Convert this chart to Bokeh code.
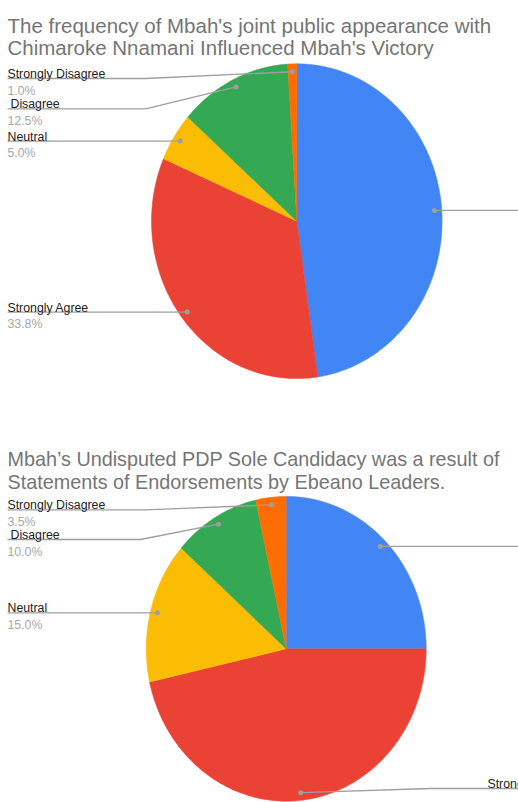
import numpy as np
from bokeh.plotting import figure
from bokeh.models import ColumnDataSource, Range1d
from bokeh.core.properties import value
from bokeh.embed import file_html
from bokeh.resources import INLINE

# ---------------- data ----------------
categories = ["Agree", "Strongly Agree", "Neutral", "Disagree", "Strongly Disagree"]
slice_colors = ["#4285F4", "#EA4335", "#FBBC04", "#34A853", "#FF6D01"]
pie1_values = [47.7, 33.8, 5.0, 12.5, 1.0]
pie2_values = [25.0, 46.5, 15.0, 10.0, 3.5]
title1_lines = ["The frequency of Mbah's joint public appearance with",
                "Chimaroke Nnamani Influenced Mbah's Victory"]
title2_lines = ["Mbah\u2019s Undisputed PDP Sole Candidacy was a result of",
                "Statements of Endorsements by Ebeano Leaders."]

# ---------------- layout (pixels, y downward) ----------------
W, H = 518, 802
FONT = "Liberation Sans"
LINE_COLOR = "#9e9e9e"

pies = [
    dict(values=pie1_values, title=title1_lines, title_y=[25, 47], title_size="20.5px",
         cx=296.3, cy=220.7, rx=145.3, ry=157.4,
         # per category: (side, line_y or None, bend_x or None, text_x or None)
         labels=[("right", None, None, None),
                 ("left", None, None, 7),
                 ("left", None, None, 7),
                 ("left", 108.3, 145, 7),
                 ("left", 78.0, 145, 7)]),
    dict(values=pie2_values, title=title2_lines, title_y=[458, 481], title_size="19.8px",
         cx=285.7, cy=648.3, rx=140.0, ry=152.4,
         labels=[("right", None, None, None),
                 ("right", 788.0, 430, 487),
                 ("left", None, None, 7),
                 ("left", 539.0, 140, 7),
                 ("left", 509.3, 145, 7)]),
]

p = figure(width=W, height=H, x_range=Range1d(0, W), y_range=Range1d(H, 0),
           output_backend="svg", toolbar_location=None, min_border=0,
           x_axis_location=None, y_axis_location=None)
p.grid.visible = False
p.outline_line_color = None
p.background_fill_color = "white"
p.border_fill_color = "white"

for pie in pies:
    vals = np.array(pie["values"], dtype=float)
    frac = vals / vals.sum()
    ends = np.cumsum(frac) * 2 * np.pi
    starts = ends - frac * 2 * np.pi
    cx, cy, rx, ry = pie["cx"], pie["cy"], pie["rx"], pie["ry"]

    xs, ys = [], []
    for a0, a1 in zip(starts, ends):
        n = max(4, int(np.degrees(a1 - a0)))
        t = np.linspace(a0, a1, n)
        xs.append([cx] + list(cx + rx * np.sin(t)) + [cx])
        ys.append([cy] + list(cy - ry * np.cos(t)) + [cy])
    p.patches(xs="xs", ys="ys", fill_color="color", line_color="color", line_width=0.5,
              source=ColumnDataSource(dict(xs=xs, ys=ys, color=slice_colors)))

    # leader lines and dots
    mids = (starts + ends) / 2
    dx = cx + 0.95 * rx * np.sin(mids)
    dy = cy - 0.95 * ry * np.cos(mids)
    lxs, lys = [], []
    name_x, name_y, name_t, pct_x, pct_y, pct_t = [], [], [], [], [], []
    for i, (side, ly, bx, tx) in enumerate(pie["labels"]):
        y_line = dy[i] if ly is None else ly
        if side == "left":
            if bx is None:
                lxs.append([7, dx[i]]); lys.append([y_line, dy[i]])
            else:
                lxs.append([7, bx, dx[i]]); lys.append([y_line, y_line, dy[i]])
        else:
            if bx is None:
                lxs.append([dx[i], W + 5]); lys.append([dy[i], dy[i]])
            else:
                lxs.append([dx[i], bx, W + 5]); lys.append([dy[i], y_line, y_line])
        if tx is not None:
            name_x.append(tx + (3 if categories[i] == "Disagree" else 0))
            name_y.append(y_line - 4.4)
            name_t.append(categories[i])
            if side == "left":
                pct_x.append(tx); pct_y.append(y_line + 12.0)
                pct_t.append(f"{pie['values'][i]:.1f}%")
    p.multi_line(xs=lxs, ys=lys, line_color=LINE_COLOR, line_width=1.3)
    p.scatter(x=list(dx), y=list(dy), size=5, fill_color=LINE_COLOR, line_color=None)
    p.text(x=name_x, y=name_y, text=name_t, text_font=value(FONT), text_font_size="12.3px",
           text_color="#222222", text_baseline="alphabetic", text_align="left")
    p.text(x=pct_x, y=pct_y, text=pct_t, text_font=value(FONT), text_font_size="12.3px",
           text_color="#a8a8a8", text_baseline="alphabetic", text_align="left")

    # title
    p.text(x=[7, 7], y=pie["title_y"], text=pie["title"], text_font=value(FONT),
           text_font_size=pie["title_size"], text_color="#757575",
           text_baseline="alphabetic", text_align="left")

open("out.html", "w").write(file_html(p, INLINE))
